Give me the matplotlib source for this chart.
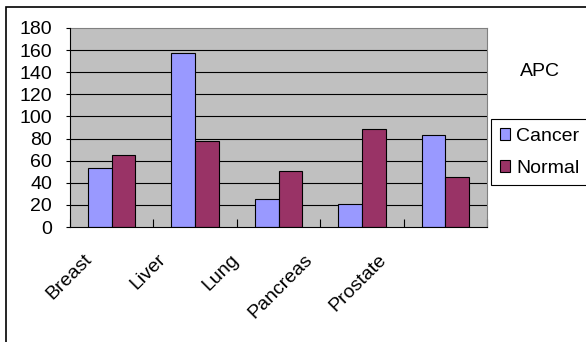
import matplotlib
matplotlib.use("Agg")
import matplotlib.pyplot as plt
from matplotlib.patches import Rectangle
from matplotlib.transforms import ScaledTranslation
import numpy as np

plt.rcParams['font.family'] = ['Liberation Sans', 'DejaVu Sans']

sites = ['Breast', 'Liver', 'Lung', 'Pancreas', 'Prostate']
cancer = [53, 157, 25, 21, 83]
normal = [65, 78, 51, 89, 45]
yticks = list(range(0, 181, 20))

fig = plt.figure(figsize=(5.86, 3.42), dpi=100)
fig.patch.set_facecolor('white')
W, H = 586, 342

# plot area in pixels: left 70, right 487, top 28, bottom 227
ax = fig.add_axes([70 / W, 1 - 227 / H, 417 / W, 199 / H])
ax.set_facecolor('#C0C0C0')

x = np.arange(len(sites))
w = 0.285
ax.bar(x - w / 2, cancer, w, color='#9999FF', edgecolor='black', linewidth=0.8,
       label='Cancer', zorder=3)
ax.bar(x + w / 2, normal, w, color='#993366', edgecolor='black', linewidth=0.8,
       label='Normal', zorder=3)

ax.set_xlim(-0.5, len(sites) - 0.5)
ax.set_ylim(0, 180)
ax.set_yticks(yticks)
ax.tick_params(axis='y', direction='out', length=3, width=0.8, pad=10,
               labelsize=14)

# gridlines between the bottom and top borders
for v in yticks[1:-1]:
    ax.axhline(v, color='black', linewidth=0.8, zorder=1)

# category ticks sit on the group boundaries, pointing inward
ax.set_xticks(np.arange(-0.5, len(sites), 1.0))
ax.set_xticklabels([])
ax.tick_params(axis='x', direction='in', length=6, width=0.8)

for side in ('top', 'right'):
    ax.spines[side].set_color('#808080')
    ax.spines[side].set_linewidth(0.8)
for side in ('left', 'bottom'):
    ax.spines[side].set_color('black')
    ax.spines[side].set_linewidth(0.8)
    ax.spines[side].set_zorder(4)

# rotated category names
for i, name in enumerate(sites):
    dx = (-28 - 9.9 * i) / 100
    dy = -24 / 100
    tr = ax.get_xaxis_transform() + ScaledTranslation(dx, dy, fig.dpi_scale_trans)
    ax.text(i, 0, name, transform=tr, rotation=45, rotation_mode='anchor',
            ha='right', va='top', fontsize=14)

fig.text(540 / W, 1 - 72 / H, 'APC', ha='center', va='center', fontsize=14)

leg = fig.legend(loc='upper left', bbox_to_anchor=(491 / W, 1 - 119 / H),
                 fontsize=14, handlelength=0.55, handleheight=0.55,
                 handletextpad=0.3, borderpad=0.45, labelspacing=0.76,
                 borderaxespad=0, fancybox=False, framealpha=1,
                 edgecolor='black')
leg.get_frame().set_linewidth(0.8)

# outer chart border
fig.patches.append(Rectangle((5.5 / W, -0.1), 1.2, 1.1 - 7.5 / H,
                             transform=fig.transFigure, fill=False,
                             edgecolor='black', linewidth=1.2))

fig.savefig('out.png', dpi=100)
